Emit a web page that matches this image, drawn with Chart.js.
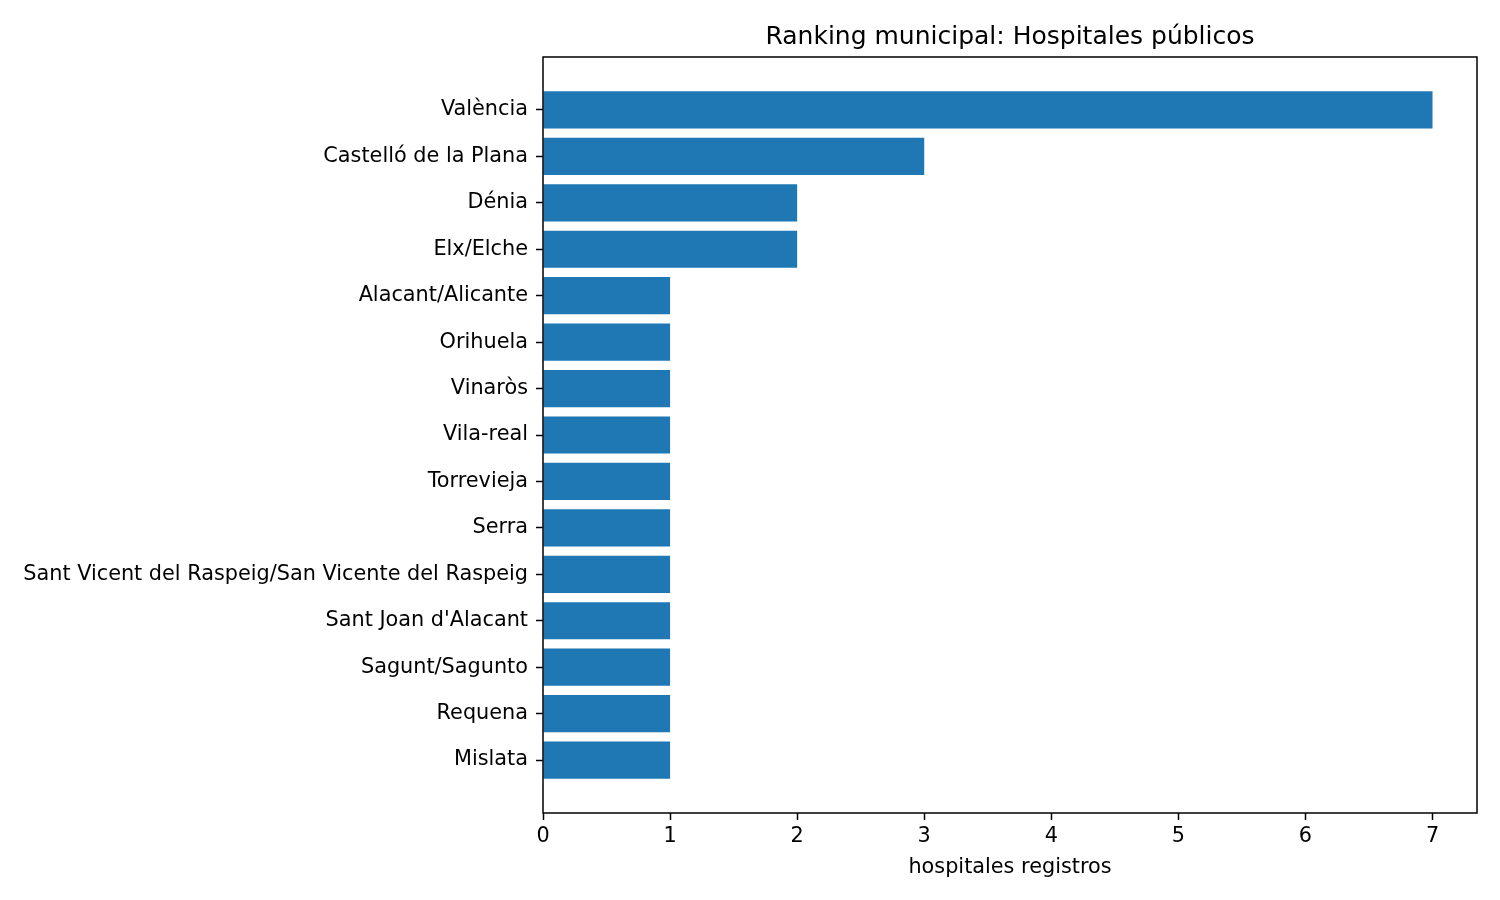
<!DOCTYPE html>
<html>
<head>
<meta charset="utf-8">
<title>Ranking municipal: Hospitales públicos</title>
<script src="https://cdn.jsdelivr.net/npm/chart.js@4"></script>
<style>
  html, body { margin: 0; padding: 0; background: #fff; }
  #wrap { width: 1500px; height: 900px; }
</style>
</head>
<body>
<div id="wrap"><canvas id="chart" width="1500" height="900"></canvas></div>
<script>
const municipios = [
    "València",
    "Castelló de la Plana",
    "Dénia",
    "Elx/Elche",
    "Alacant/Alicante",
    "Orihuela",
    "Vinaròs",
    "Vila-real",
    "Torrevieja",
    "Serra",
    "Sant Vicent del Raspeig/San Vicente del Raspeig",
    "Sant Joan d'Alacant",
    "Sagunt/Sagunto",
    "Requena",
    "Mislata"
];
const hospitales = [7, 3, 2, 2, 1, 1, 1, 1, 1, 1, 1, 1, 1, 1, 1];
const xTicks = [0, 1, 2, 3, 4, 5, 6, 7];

const font = "'DejaVu Sans', sans-serif";

// marco completo alrededor del area de dibujo
const frame = {
    id: "frame",
    afterDraw(chart) {
        const a = chart.chartArea;
        const ctx = chart.ctx;
        ctx.save();
        ctx.strokeStyle = "#000";
        ctx.lineWidth = 1.5;
        ctx.strokeRect(a.left, a.top, a.right - a.left, a.bottom - a.top);
        ctx.restore();
    }
};

new Chart(document.getElementById("chart"), {
    type: "bar",
    data: {
        datasets: [
            {
                label: "hospitales registros",
                data: hospitales.map((v, i) => ({ x: v, y: i })),
                backgroundColor: "#1f77b4",
                borderWidth: 0,
                categoryPercentage: 1,
                barPercentage: 0.8
            }
        ]
    },
    options: {
        indexAxis: "y",
        responsive: false,
        devicePixelRatio: 1,
        animation: false,
        layout: { padding: { left: 0, right: 23, top: 0, bottom: 0 } },
        plugins: {
            legend: { display: false },
            tooltip: { enabled: false },
            title: {
                display: true,
                text: "Ranking municipal: Hospitales públicos",
                fullSize: false,
                color: "#000",
                font: { family: font, size: 25, weight: "normal", lineHeight: 1.2 },
                padding: { top: 22, bottom: 5 }
            }
        },
        scales: {
            x: {
                type: "linear",
                min: 0,
                max: 7.35,
                afterBuildTicks: (scale) => {
                    scale.ticks = xTicks.map((v) => ({ value: v }));
                },
                afterFit: (scale) => { scale.height = 87; },
                grid: {
                    drawOnChartArea: false,
                    color: "#000",
                    tickLength: 7,
                    tickWidth: 1.5
                },
                border: { display: false },
                ticks: {
                    color: "#000",
                    padding: 4,
                    maxRotation: 0,
                    font: { family: font, size: 20.8 }
                },
                title: {
                    display: true,
                    text: "hospitales registros",
                    color: "#000",
                    font: { family: font, size: 20.8 },
                    padding: { top: 2, bottom: 20 }
                }
            },
            y: {
                type: "linear",
                min: -1.14,
                max: 15.14,
                reverse: true,
                offset: false,
                afterBuildTicks: (scale) => {
                    scale.ticks = municipios.map((m, i) => ({ value: i }));
                },
                afterFit: (scale) => { scale.width = 543; },
                grid: {
                    offset: false,
                    drawOnChartArea: false,
                    color: "#000",
                    tickLength: 7,
                    tickWidth: 1.5
                },
                border: { display: false },
                ticks: {
                    color: "#000",
                    padding: 8,
                    autoSkip: false,
                    font: { family: font, size: 20.8 },
                    callback: (value) => municipios[value]
                }
            }
        }
    },
    plugins: [frame]
});
</script>
</body>
</html>
